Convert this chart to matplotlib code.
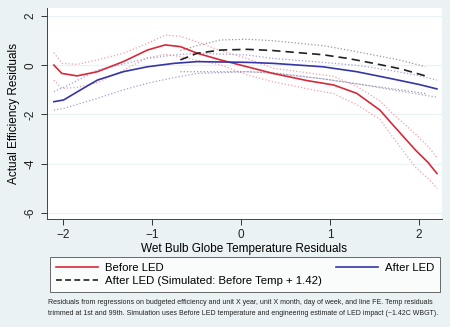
import numpy as np
import matplotlib
matplotlib.use("Agg")
import matplotlib.pyplot as plt
from matplotlib.lines import Line2D

plt.rcParams['font.family'] = ['Liberation Sans', 'DejaVu Sans']

# Before LED: fit and 95% band
x_before = [-2.1, -2.01, -1.84, -1.61, -1.32, -1.05, -0.85, -0.68, -0.49, -0.23, 0.07, 0.36, 0.74, 1.04, 1.3, 1.56, 1.7, 1.96, 2.1, 2.2]
y_before = [0.01, -0.33, -0.43, -0.26, 0.15, 0.62, 0.83, 0.76, 0.49, 0.22, -0.06, -0.33, -0.62, -0.8, -1.14, -1.82, -2.4, -3.45, -3.95, -4.4]
hi_before = [0.51, 0.08, 0.04, 0.22, 0.49, 0.89, 1.23, 1.18, 0.95, 0.6, 0.28, -0.12, -0.3, -0.45, -0.85, -1.45, -1.95, -2.8, -3.3, -3.75]
lo_before = [-0.6, -0.94, -0.9, -0.7, -0.2, 0.3, 0.45, 0.35, 0.2, 0.02, -0.39, -0.67, -0.95, -1.15, -1.6, -2.2, -2.9, -4.15, -4.6, -5.0]

# After LED: fit and 95% band
x_after = [-2.1, -1.99, -1.8, -1.61, -1.32, -1.05, -0.75, -0.49, 0.07, 0.36, 0.92, 1.3, 1.67, 2.0, 2.2]
y_after = [-1.48, -1.41, -1.0, -0.6, -0.26, -0.06, 0.08, 0.15, 0.12, 0.08, -0.06, -0.26, -0.53, -0.78, -0.96]
hi_after = [-1.07, -0.9, -0.55, -0.19, 0.05, 0.28, 0.42, 0.49, 0.42, 0.28, 0.12, 0.0, -0.2, -0.42, -0.6]
lo_after = [-1.82, -1.75, -1.55, -1.34, -1.0, -0.73, -0.5, -0.33, -0.26, -0.33, -0.55, -0.75, -0.98, -1.18, -1.3]

# After LED simulated: fit and 95% band
x_sim = [-0.68, -0.49, -0.23, 0.07, 0.36, 0.92, 1.2, 1.49, 1.8, 2.07]
y_sim = [0.22, 0.49, 0.62, 0.65, 0.6, 0.43, 0.28, 0.08, -0.15, -0.43]
hi_sim = [0.6, 0.8, 1.03, 1.06, 1.0, 0.8, 0.62, 0.42, 0.2, -0.06]
lo_sim = [-0.26, -0.26, -0.26, -0.26, -0.3, -0.55, -0.7, -0.85, -1.0, -1.15]

xticks = [-2, -1, 0, 1, 2]
yticks = [-6, -4, -2, 0, 2]

bg = '#eaf2f3'
red = '#d52a3a'
blue = '#3535a8'

fig = plt.figure(figsize=(4.5, 3.27), dpi=100, facecolor=bg)
ax = fig.add_axes([0.1038, 0.3303, 0.8784, 0.6452])
ax.set_facecolor('white')

ax.plot(x_before, hi_before, ':', color='#f2a0a8', lw=0.9)
ax.plot(x_before, lo_before, ':', color='#f2a0a8', lw=0.9)
ax.plot(x_after, hi_after, ':', color='#a0a0dc', lw=0.9)
ax.plot(x_after, lo_after, ':', color='#a0a0dc', lw=0.9)
ax.plot(x_sim, hi_sim, ':', color='#999999', lw=0.9)
ax.plot(x_sim, lo_sim, ':', color='#999999', lw=0.9)
ax.plot(x_before, y_before, '-', color=red, lw=1.2)
ax.plot(x_after, y_after, '-', color=blue, lw=1.2)
ax.plot(x_sim, y_sim, '--', color='#222222', lw=1.2, dashes=(5, 3))

ax.set_xlim(-2.18, 2.257)
ax.set_ylim(-6.25, 2.33)
ax.set_xticks(xticks)
ax.set_yticks(yticks)
ax.set_yticklabels([str(t) for t in yticks], rotation=90, va='center')
ax.tick_params(labelsize=8.5, color='#333333', length=4, width=0.7, colors='#222222')
ax.grid(axis='y', color=bg, lw=0.9)
ax.set_axisbelow(True)
for s in ['top', 'right']:
    ax.spines[s].set_visible(False)
for s in ['left', 'bottom']:
    ax.spines[s].set_color('#444444')
    ax.spines[s].set_linewidth(0.7)

ax.set_xlabel('Wet Bulb Globe Temperature Residuals', fontsize=8.5, labelpad=1)
ax.set_ylabel('Actual Efficiency Residuals', fontsize=8.5, labelpad=3)

handles = [Line2D([], [], color=red, lw=1.2),
           Line2D([], [], color='#222222', lw=1.2, ls='--', dashes=(3.5, 2)),
           Line2D([], [], color=blue, lw=1.2)]
labels = ['Before LED', 'After LED (Simulated: Before Temp + 1.42)', 'After LED']
leg = fig.legend(handles, labels, ncol=2, loc='upper left',
                 bbox_to_anchor=(50 / 450, 1 - 296 / 327, 390 / 450, 39 / 327),
                 mode='expand', fontsize=8.2, frameon=True, fancybox=False,
                 edgecolor='#444444', borderpad=0.5, labelspacing=0.3,
                 handlelength=3.7, handletextpad=0.6, columnspacing=1.0,
                 borderaxespad=0)
leg.get_frame().set_linewidth(0.7)

note = ('Residuals from regressions on budgeted efficiency and unit X year, unit X month, day of week, and line FE. Temp residuals\n'
        'trimmed at 1st and 99th. Simulation uses Before LED temperature and engineering estimate of LED impact (~1.42C WBGT).')
fig.text(48 / 450, 1 - 299 / 327, note, fontsize=5.0, va='top', ha='left',
         linespacing=1.75, color='#222222')

fig.savefig('out.png', dpi=100, facecolor=bg)
